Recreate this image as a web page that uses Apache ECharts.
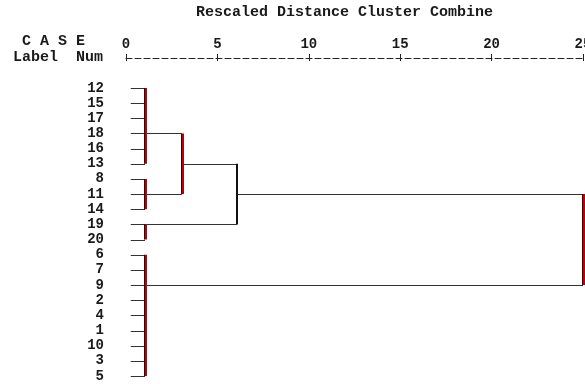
<!DOCTYPE html>
<html>
<head>
<meta charset="utf-8">
<script src="https://cdn.jsdelivr.net/npm/echarts@6/dist/echarts.min.js"></script>
<style>html,body{margin:0;padding:0;background:#fff}#c{width:585px;height:384px}</style>
</head>
<body>
<div id="c"></div>
<script>
// ---- data ----
const titleText = 'Rescaled Distance Cluster Combine';
const leafLabels = ['12','15','17','18','16','13','8','11','14','19','20','6','7','9','2','4','1','10','3','5'];
const xTicks = [0, 5, 10, 15, 20, 25];
const leafStart = 0.26;
// merges (clusters): height on rescaled distance, row span, row where the connector leaves, parent merge
const mergeHeight    = [1.04, 1.04, 1.04, 1.04, 3.05, 6.06, 25];
const mergeTopRow    = [0, 6, 9, 11, 3, 5, 7];
const mergeBottomRow = [5, 8, 10, 19, 7, 9, 13];
const mergeOutRow    = [3, 7, 9, 13, 5, 7, null];
const mergeParent    = [4, 4, 5, 6, 5, 6, -1];

// ---- build segments ----
const segs = [];
leafLabels.forEach((lab, r) => {
  for (let i = 0; i < 4; i++) {
    if (r >= mergeTopRow[i] && r <= mergeBottomRow[i]) {
      segs.push([leafStart, r, mergeHeight[i], r, 0]);
      break;
    }
  }
});
mergeHeight.forEach((h, i) => {
  const p = mergeParent[i];
  if (p >= 0) segs.push([h, mergeOutRow[i], mergeHeight[p], mergeOutRow[i], 0]);
  segs.push([h, mergeTopRow[i], h, mergeBottomRow[i], i === 5 ? 2 : 1]);
});

const mono = '"Liberation Mono", "DejaVu Sans Mono", monospace';
const chart = echarts.init(document.getElementById('c'));
chart.setOption({
  animation: false,
  backgroundColor: '#fff',
  grid: { left: 126, right: 2, top: 88, bottom: 8, containLabel: false, outerBoundsMode: 'none' },
  xAxis: [{
    type: 'value', position: 'top', offset: 30, min: 0, max: 25, interval: 5,
    axisLine: { show: true, lineStyle: { color: '#222', width: 1, type: [6, 3] } },
    axisTick: { show: true, length: 4, lineStyle: { color: '#222', width: 1 } },
    axisLabel: { margin: 7, color: '#1a1a1a', fontFamily: mono, fontWeight: 'bold', fontSize: 14 },
    splitLine: { show: false }
  }, {
    type: 'value', position: 'top', offset: 30, min: 0, max: 25, interval: 5,
    axisLine: { show: false },
    axisTick: { show: true, inside: true, length: 3, lineStyle: { color: '#222', width: 1 } },
    axisLabel: { show: false },
    splitLine: { show: false }
  }],
  yAxis: {
    type: 'category', inverse: true, boundaryGap: false, data: leafLabels,
    axisLine: { show: false }, axisTick: { show: false }, splitLine: { show: false },
    axisLabel: { interval: 0, margin: 22, color: '#1a1a1a', fontFamily: mono, fontWeight: 'bold', fontSize: 14 }
  },
  graphic: [
    { type: 'text', left: 196, top: 5, style: { text: titleText, font: 'bold 15px ' + mono, fill: '#1a1a1a' } },
    { type: 'text', left: 13, top: 34, style: { text: ' C A S E', font: 'bold 15px ' + mono, fill: '#1a1a1a' } },
    { type: 'text', left: 13, top: 50, style: { text: 'Label  Num', font: 'bold 15px ' + mono, fill: '#1a1a1a' } }
  ],
  series: [{
    type: 'custom',
    xAxisIndex: 0,
    clip: false,
    encode: { x: [0, 2], y: [1, 3] },
    data: segs,
    renderItem: function (params, api) {
      const a = api.coord([api.value(0), api.value(1)]);
      const b = api.coord([api.value(2), api.value(3)]);
      const kind = api.value(4);
      if (kind === 0) {
        const y = Math.round(a[1]) + 0.5;
        return { type: 'line', shape: { x1: a[0], y1: y, x2: b[0], y2: y }, style: { stroke: '#333', lineWidth: 1 } };
      }
      const x = Math.round(a[0]);
      if (kind === 1) {
        return { type: 'group', children: [
          { type: 'line', shape: { x1: x - 0.5, y1: a[1], x2: x - 0.5, y2: b[1] }, style: { stroke: '#111', lineWidth: 1 } },
          { type: 'line', shape: { x1: x + 1, y1: a[1], x2: x + 1, y2: b[1] }, style: { stroke: '#c00000', lineWidth: 2 } }
        ]};
      }
      return { type: 'line', shape: { x1: x, y1: a[1], x2: x, y2: b[1] }, style: { stroke: '#111', lineWidth: 2 } };
    }
  }]
});
</script>
</body>
</html>
